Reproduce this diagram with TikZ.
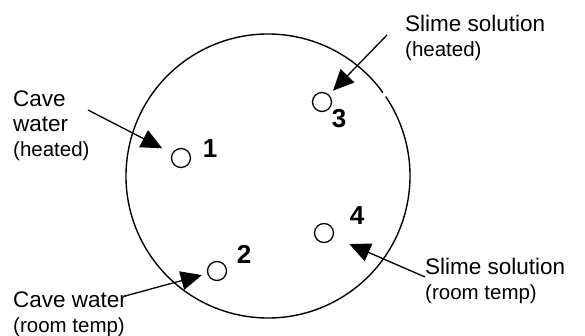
\documentclass[tikz,border=0pt]{standalone}
\usepackage{fontspec}
\setmainfont{Liberation Sans}
\usetikzlibrary{arrows.meta}
\newcommand{\mainsize}{\fontsize{22.5}{25}\selectfont}
\newcommand{\subsize}{\fontsize{20.5}{24}\selectfont}
\tikzset{hole/.style={draw, circle, line width=1.3pt, minimum size=19pt, inner sep=0pt}}
\tikzset{num/.style={font=\fontsize{26}{26}\selectfont\bfseries, inner sep=0pt}}
\tikzset{lbl/.style={anchor=north west, align=left, inner sep=0pt, font=\mainsize}}
\tikzset{arr/.style={-{Triangle[length=21pt,width=19pt]}, line width=1.3pt}}

\begin{document}
\begin{tikzpicture}[x=1pt, y=-1pt]
    \useasboundingbox (0,0) rectangle (585,336);
    % dish, with the small break at the top right
    \draw [line width=1.4pt] (268,176) ++(-34:142) arc [start angle=-34, end angle=324, radius=142];

    \node [hole] (h1) at (181,158) {};
    \node [hole] (h2) at (217,271) {};
    \node [hole] (h3) at (322,102) {};
    \node [hole] (h4) at (324,233) {};

    \node [num] (n1) at (210,149) {1};
    \node [num] (n2) at (244,254) {2};
    \node [num] (n3) at (339,119) {3};
    \node [num] (n4) at (357,216) {4};

    \node [lbl] (l1) at (13,91) {Cave\\water\\{\subsize (heated)}};
    \node [lbl] (l2) at (13,292) {Cave water\\{\subsize (room temp)}};
    \node [lbl] (l3) at (405,15) {Slime solution\\{\subsize (heated)}};
    \node [lbl] (l4) at (425,258) {Slime solution\\{\subsize (room temp)}};

    \coordinate (t1) at (88,110);
    \coordinate (t2) at (125,296);
    \coordinate (t3) at (387,35);
    \coordinate (t4) at (425,277);

    \draw [arr, shorten >=11pt] (t1) -- (h1);
    \draw [arr, shorten >=5.5pt] (t2) -- (h2);
    \draw [arr, shorten >=5.5pt] (t3) -- (h3);
    \draw [arr, shorten >=17.5pt] (t4) -- (h4);
\end{tikzpicture}
\end{document}
